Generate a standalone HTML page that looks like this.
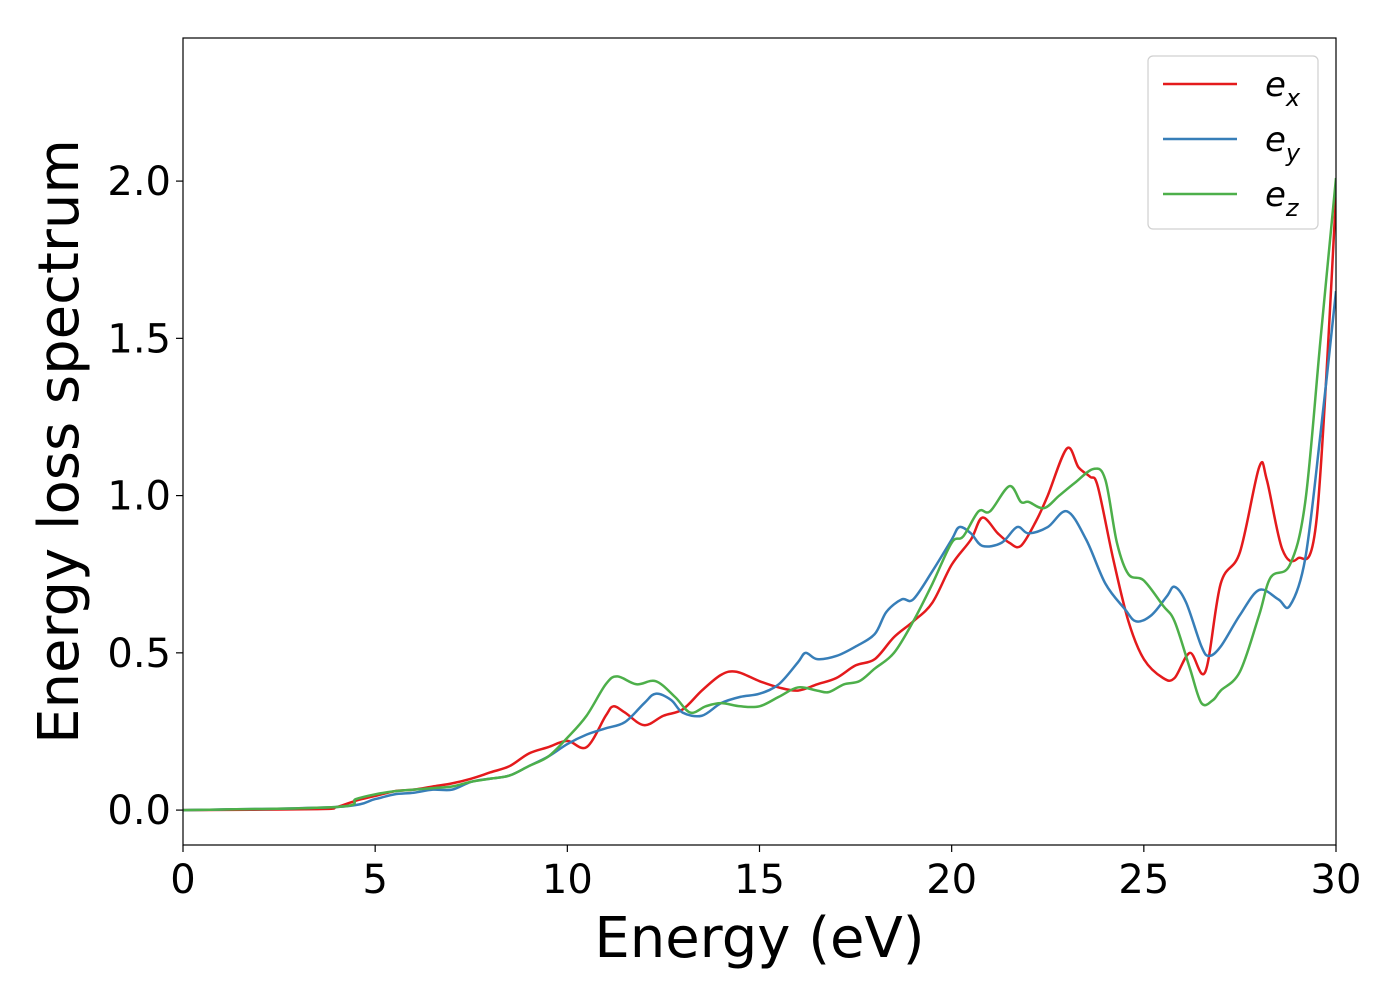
<!DOCTYPE html>
<html><head><meta charset="utf-8"><style>
body{margin:0;background:#fff;}
svg text{font-family:"DejaVu Sans","Liberation Sans",sans-serif;}
</style></head><body>
<svg id="chart" width="1400" height="1000" viewBox="0 0 1400 1000" xmlns="http://www.w3.org/2000/svg">
<g id="plot"></g>
</svg>
<script>
const xTicks=[0,5,10,15,20,25,30];
const yTicks=[0.0,0.5,1.0,1.5,2.0];
const yTickLabels=["0.0","0.5","1.0","1.5","2.0"];
const exX=[0,3.5,4,4.5,5,5.5,6,6.5,7,7.5,8,8.5,9,9.5,10,10.5,11,11.2,11.5,12,12.5,13,13.5,14,14.4,15,15.5,16,16.5,17,17.5,18,18.5,19,19.5,20,20.5,20.8,21.2,21.5,21.8,22.2,22.5,23,23.3,23.6,23.8,24.2,24.6,25,25.5,25.8,26.2,26.6,27,27.5,28,28.2,28.6,29,29.5,30];
const exY=[0,0.003,0.01,0.03,0.045,0.06,0.065,0.075,0.085,0.1,0.12,0.14,0.18,0.2,0.22,0.2,0.3,0.33,0.31,0.27,0.3,0.32,0.38,0.43,0.44,0.41,0.39,0.38,0.4,0.42,0.46,0.48,0.55,0.6,0.66,0.78,0.86,0.93,0.88,0.85,0.84,0.92,1.0,1.15,1.09,1.06,1.03,0.8,0.6,0.48,0.42,0.42,0.5,0.44,0.72,0.82,1.09,1.05,0.83,0.8,0.93,1.95];
const eyX=[0,4,5,5.5,6,6.5,7,7.5,8,8.5,9,9.5,10,10.5,11,11.5,12,12.3,12.7,13,13.5,14,14.5,15,15.5,16,16.2,16.5,17,17.5,18,18.3,18.7,19,19.5,20,20.2,20.5,20.8,21.3,21.7,22,22.5,23,23.5,24,24.5,24.8,25.2,25.6,25.8,26.1,26.5,26.7,27,27.5,28,28.5,28.8,29.2,29.6,30];
const eyY=[0,0.01,0.035,0.05,0.055,0.065,0.065,0.09,0.1,0.11,0.14,0.17,0.21,0.24,0.26,0.28,0.34,0.37,0.35,0.31,0.3,0.34,0.36,0.37,0.4,0.47,0.5,0.48,0.49,0.52,0.56,0.63,0.67,0.67,0.76,0.86,0.9,0.88,0.84,0.85,0.9,0.88,0.9,0.95,0.86,0.72,0.64,0.6,0.62,0.68,0.71,0.66,0.52,0.49,0.52,0.62,0.7,0.67,0.65,0.8,1.2,1.65];
const ezX=[0,4,4.5,5,5.5,6,6.5,7,7.5,8,8.5,9,9.5,10,10.5,11,11.3,11.8,12.3,12.8,13.2,13.6,14,14.5,15,15.5,16,16.5,16.8,17.2,17.6,18,18.5,19,19.5,20,20.3,20.7,21,21.5,21.8,22,22.4,22.8,23.2,23.7,24,24.3,24.6,25,25.5,25.8,26.2,26.5,26.8,27,27.5,28,28.3,28.8,29.2,29.6,30];
const ezY=[0,0.01,0.035,0.05,0.06,0.065,0.07,0.075,0.09,0.1,0.11,0.14,0.17,0.23,0.3,0.4,0.425,0.4,0.41,0.36,0.31,0.33,0.34,0.33,0.33,0.36,0.39,0.38,0.375,0.4,0.41,0.45,0.5,0.6,0.72,0.85,0.87,0.95,0.95,1.03,0.98,0.98,0.96,1.0,1.04,1.085,1.05,0.85,0.75,0.73,0.65,0.6,0.45,0.34,0.35,0.38,0.44,0.62,0.74,0.78,0.98,1.5,2.01];

const L=183,R=1336,T=38,B=845;
const xMin=0,xMax=30,yMin=-0.111,yMax=2.455;
const sx=v=>L+(v-xMin)/(xMax-xMin)*(R-L);
const sy=v=>B-(v-yMin)/(yMax-yMin)*(B-T);
const NS="http://www.w3.org/2000/svg";
const g=document.getElementById('plot');
function mk(tag,attrs){const e=document.createElementNS(NS,tag);for(const k in attrs)e.setAttribute(k,attrs[k]);g.appendChild(e);return e;}
function smooth(xs,ys){
  const p=xs.map((x,i)=>[sx(x),sy(ys[i])]);
  let d=`M${p[0][0]},${p[0][1]}`;
  for(let i=0;i<p.length-1;i++){
    const p0=p[i-1]||p[i],p1=p[i],p2=p[i+1],p3=p[i+2]||p2;
    const c1=[p1[0]+(p2[0]-p0[0])/6,p1[1]+(p2[1]-p0[1])/6];
    const c2=[p2[0]-(p3[0]-p1[0])/6,p2[1]-(p3[1]-p1[1])/6];
    d+=` C${c1[0]},${c1[1]} ${c2[0]},${c2[1]} ${p2[0]},${p2[1]}`;
  }
  return d;
}
const clip=document.createElementNS(NS,'clipPath');clip.id='clp';
const cr=document.createElementNS(NS,'rect');cr.setAttribute('x',L);cr.setAttribute('y',T);cr.setAttribute('width',R-L);cr.setAttribute('height',B-T);
clip.appendChild(cr);g.appendChild(clip);
const series=[[exX,exY,'#e41a1c','ex-line'],[eyX,eyY,'#377eb8','ey-line'],[ezX,ezY,'#4daf4a','ez-line']];
series.forEach(s=>{
  const e=mk('path',{d:smooth(s[0],s[1]),fill:'none',stroke:s[2],'stroke-width':2.5,'clip-path':'url(#clp)'});
  
  
});
const fr=mk('rect',{x:L,y:T,width:R-L,height:B-T,fill:'none',stroke:'#000','stroke-width':1.2});


xTicks.forEach(v=>{
  const x=sx(v);
  const t=mk('line',{x1:x,x2:x,y1:B,y2:B+7,stroke:'#000','stroke-width':1.2});
  
  
  const l=mk('text',{x:x,y:B+48,'font-size':40,'text-anchor':'middle'});l.textContent=v;
  
  
});
yTicks.forEach((v,i)=>{
  const y=sy(v);
  const t=mk('line',{x1:L-7,x2:L,y1:y,y2:y,stroke:'#000','stroke-width':1.2});
  
  
  const l=mk('text',{x:L-12,y:y+14,'font-size':40,'text-anchor':'end'});l.textContent=yTickLabels[i];
  
  
});
const xl=mk('text',{x:(L+R)/2,y:957,'font-size':56,'text-anchor':'middle'});xl.textContent='Energy (eV)';


const yl=mk('text',{x:0,y:0,'font-size':56,'text-anchor':'middle',transform:`translate(78,${(T+B)/2}) rotate(-90)`});yl.textContent='Energy loss spectrum';


const lb=mk('rect',{x:1148,y:56,width:170,height:173,rx:5,fill:'#fff',stroke:'#ccc','stroke-width':1.2,opacity:0.9});


const subs=['x','y','z'];
series.forEach((s,i)=>{
  const y=84+i*55;
  const ln=mk('line',{x1:1163,x2:1237,y1:y,y2:y,stroke:s[2],'stroke-width':2.5});
  
  
  const t=mk('text',{x:1265,y:y+12,'font-size':34,'font-style':'italic'});
  
  
  t.innerHTML=`e<tspan font-size="24" dy="10">${subs[i]}</tspan>`;
});
</script>
</body></html>
